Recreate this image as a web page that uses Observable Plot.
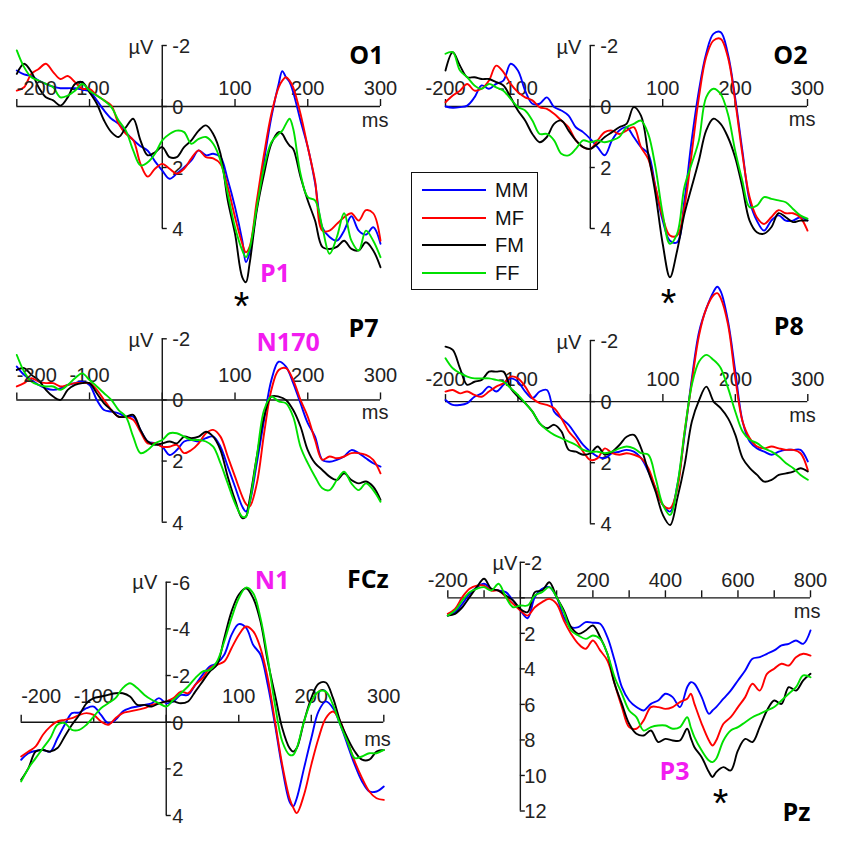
<!DOCTYPE html>
<html>
<head>
<meta charset="utf-8">
<script src="https://cdn.jsdelivr.net/npm/d3@7"></script>
<script src="https://cdn.jsdelivr.net/npm/@observablehq/plot@0.6"></script>
<style>
  body { margin: 0; background: #fff; }
  #chart { position: relative; width: 850px; height: 844px; background: #fff; overflow: hidden;
           font-family: "Liberation Sans", Arial, sans-serif; }
  #chart svg { position: absolute; left: 0; top: 0; background: transparent !important; }
  #legend { position: absolute; left: 411px; top: 172px; width: 125px; height: 116px;
            border: 1.5px solid #111; background: #fff; }
  .lg-row { position: absolute; left: 0; height: 24px; width: 125px; }
  .lg-line { position: absolute; left: 10px; top: 11px; width: 64px; height: 0; border-top: 2.4px solid; }
  .lg-text { position: absolute; left: 83px; top: 0; font-size: 20px; line-height: 24px; color: #111; }
</style>
</head>
<body>
<div id="chart"><div id="legend"></div></div>
<script>
// ---------- categories ----------
const conditions = ["MM", "MF", "FM", "FF"];
const conditionColors = ["#0000ff", "#ff0000", "#000000", "#00e000"];

// ---------- tick labels ----------
const shortTicks = [-200, -100, 0, 100, 200, 300];
const shortLabels = [-200, -100, 100, 200, 300];
const uvTicks4 = [-2, 0, 2, 4];
const fczTicks = [-6, -4, -2, 0, 2, 4];
const pzXTicks = [-200, -100, 0, 100, 200, 300, 400, 500, 600, 700, 800];
const pzXLabels = [-200, 200, 400, 600, 800];
const pzYTicks = [-2, 0, 2, 4, 6, 8, 10, 12];
const pzYLabels = [-2, 2, 4, 6, 8, 10, 12];

// ---------- O1 ----------
const o1Time = [-200,-190,-180,-170,-160,-150,-140,-130,-120,-110,-100,-90,-80,-70,-60,-50,-40,-30,-20,-10,0,10,20,30,40,50,60,70,80,90,100,110,115,120,130,140,150,160,165,170,175,180,190,200,210,220,230,240,250,260,270,280,290,300];
const o1MM = [-1.18,-1.05,-1.0,-0.85,-0.74,-0.65,-0.6,-0.6,-0.6,-0.55,-0.5,-0.2,0.13,0.4,0.57,0.85,1.1,1.3,1.45,1.8,2.1,2.37,2.2,2.0,1.77,1.44,1.6,1.55,1.66,2.4,3.3,4.4,5.1,4.8,3.3,1.77,0.35,-0.74,-1.16,-0.96,-0.8,-0.47,0.46,1.33,2.5,3.96,4.28,4.4,4.07,3.6,4.07,4.2,3.96,4.5];
const o1MF = [-0.52,-0.63,-1.07,-1.23,-1.4,-1.13,-0.9,-1.0,-0.8,-0.58,-0.58,-0.36,-0.2,-0.03,0.57,0.9,1.1,1.88,2.3,2.04,1.88,2.04,2.2,2.04,1.7,1.44,1.66,1.7,1.88,2.64,3.63,4.5,4.78,4.6,3.08,1.55,0.24,-0.63,-0.85,-0.96,-0.85,-0.63,0.24,1.33,2.43,4.07,4.07,3.85,3.63,3.5,3.74,3.4,3.5,4.4];
const o1FM = [-1.07,-1.4,-1.13,-0.63,-0.3,-0.2,-0.03,-0.3,-0.74,-0.8,-0.47,-0.09,0.46,0.84,1.0,0.68,0.4,1.11,1.6,1.5,1.33,1.66,1.66,1.33,1.11,0.79,0.62,0.9,1.55,3.08,4.17,5.6,5.76,5.16,3.4,2.2,1.22,0.84,0.9,1.11,1.28,1.39,2.3,3.08,3.74,4.6,4.67,4.6,4.4,4.67,4.72,4.45,4.72,5.27];
const o1FF = [-1.84,-1.29,-0.96,-0.85,-0.74,-0.63,-0.3,-0.36,-0.52,-0.74,-0.52,-0.36,-0.2,0.02,0.46,0.79,1.44,1.93,1.83,1.55,1.11,0.9,0.79,0.84,1.22,1.06,1.0,1.22,1.77,2.86,3.96,4.72,4.94,4.67,3.3,1.99,1.17,0.9,0.79,0.57,0.4,0.73,2.2,2.97,3.08,3.96,4.83,4.28,3.5,4.4,4.72,4.07,4.4,4.94];

// ---------- O2 ----------
const o2Time = [-200,-190,-180,-170,-160,-150,-140,-130,-120,-110,-100,-90,-80,-70,-60,-50,-40,-30,-20,-10,0,10,20,30,40,50,60,70,80,90,100,110,120,130,140,150,160,170,180,190,200,210,220,230,240,250,260,270,280,290,300];
const o2MM = [0,0.04,0.02,-0.03,-0.3,-0.69,-0.58,-0.74,-0.85,-1.4,-1.18,-0.52,-0.09,-0.09,-0.3,0.02,0.13,0.3,0.68,0.84,1.06,1.33,1.6,1.11,0.79,0.68,1.0,1.33,1.55,2.64,3.74,4.4,4.45,3.08,1.11,-0.52,-1.73,-2.38,-2.44,-1.73,-0.3,1.44,3.08,3.74,4.07,3.74,3.57,3.74,3.74,3.63,3.74];
const o2MF = [-0.14,-0.36,-0.52,-0.74,-0.52,-0.58,-0.85,-1.34,-1.13,-0.74,-0.47,-0.3,-0.2,0.02,0.08,0.24,0.46,0.68,1.11,1.33,1.39,1.11,0.84,0.79,0.9,0.79,0.68,1.33,1.72,2.64,3.63,4.23,4.23,3.3,1.55,-0.3,-1.62,-2.16,-2.22,-1.62,-0.2,1.55,2.97,3.63,3.85,3.63,3.4,3.5,3.5,3.63,4.07];
const o2FM = [-1.18,-1.78,-1.34,-0.96,-0.96,-0.9,-0.9,-0.8,-0.69,-0.3,0.13,0.46,0.9,1.17,1.0,0.57,0.46,0.79,1.11,1.33,1.39,1.22,1.0,0.84,0.68,0.57,0.02,0.3,1.55,2.86,4.5,5.6,4.72,3.52,2.64,1.77,0.79,0.4,0.57,1.0,1.66,2.64,3.74,4.12,4.17,3.96,3.5,3.63,3.79,3.74,3.74];
const o2FF = [-1.73,-1.78,-1.18,-0.96,-0.69,-0.58,-0.74,-0.63,-0.52,-0.25,0.02,0.13,0.46,0.9,0.9,1.11,1.55,1.6,1.39,1.11,1.17,1.11,1.17,1.11,1.0,0.68,0.57,0.46,0.9,1.99,3.52,4.5,4.17,2.64,1.88,1.11,-0.3,-0.58,-0.41,0.24,1.44,2.43,3.3,3.25,2.97,3.03,3.08,3.14,3.36,3.57,3.68];

// ---------- P7 ----------
const p7Time = [-200,-190,-180,-170,-160,-150,-140,-130,-120,-110,-100,-90,-80,-70,-60,-50,-40,-30,-20,-10,0,10,20,30,40,50,60,70,80,90,100,110,115,120,130,140,150,160,170,180,190,200,210,220,230,240,250,260,270,280,290,300];
const p7MM = [-1.09,-0.82,-0.65,-0.49,-0.38,-0.33,-0.38,-0.49,-0.55,-0.6,-0.49,0,0.33,0.38,0.44,0.55,0.55,0.98,1.36,1.42,1.53,1.8,1.64,1.36,1.31,1.36,1.25,1.2,1.53,2.18,2.84,3.49,3.65,3.38,2.07,0.65,-0.65,-1.25,-1.09,-0.55,0.11,0.76,1.2,1.96,2.02,1.96,1.85,1.64,1.74,1.91,2.07,2.18];
const p7MF = [-0.44,-0.55,-0.71,-0.6,-0.55,-0.55,-0.44,-0.49,-0.55,-0.55,-0.55,-0.33,0,0.33,0.55,0.55,0.65,1.04,1.42,1.42,1.53,1.53,1.47,1.74,1.64,1.42,1.09,0.98,1.2,1.85,2.51,3.16,3.4,3.49,2.73,1.09,-0.33,-0.98,-1.04,-0.65,0,0.55,1.31,1.96,1.85,1.91,1.85,1.74,1.74,1.8,1.96,2.4];
const p7FM = [-0.98,-1.04,-0.82,-0.65,-0.33,-0.11,0,-0.33,-0.49,-0.55,-0.55,-0.22,0.11,0.33,0.55,0.55,0.49,0.98,1.36,1.47,1.42,1.36,1.42,1.2,1.25,1.2,1.04,1.2,1.64,2.51,3.27,3.87,3.82,3.27,1.85,0.55,-0.11,-0.11,0,0.33,0.87,1.64,2.07,2.29,2.51,2.62,2.4,2.62,2.73,2.67,2.84,3.27];
const p7FF = [-1.47,-0.93,-0.6,-0.49,-0.44,-0.44,-0.33,-0.49,-0.71,-0.87,-0.65,-0.44,-0.22,0,0.33,0.55,1.2,1.74,1.64,1.42,1.31,1.09,1.09,1.2,1.31,1.31,1.36,1.53,2.07,2.73,3.38,3.82,3.82,3.38,1.85,0.33,-0.11,0.05,0.11,0.55,1.53,2.07,2.51,2.89,2.95,2.62,2.35,2.73,2.95,2.73,2.95,3.33];

// ---------- P8 ----------
const p8Time = [-200,-190,-180,-170,-160,-150,-140,-130,-120,-110,-100,-90,-80,-70,-60,-50,-40,-30,-20,-10,0,10,20,30,40,50,60,70,80,90,100,110,120,130,140,150,160,170,175,180,190,200,210,220,230,240,250,260,270,280,290,300];
const p8MM = [-0.05,0.11,0.11,0.05,-0.16,-0.27,-0.49,-0.33,-0.55,-0.76,-0.65,-0.33,-0.11,-0.33,-0.38,0.33,0.55,0.76,1.09,1.42,1.64,1.8,1.85,1.69,1.64,1.58,1.64,1.85,2.29,2.84,3.38,3.6,2.73,1.09,-0.76,-2.29,-3.05,-3.6,-3.76,-3.6,-2.62,-0.98,0.65,1.31,1.53,1.64,1.74,1.64,1.58,1.58,1.58,1.96];
const p8MF = [-0.33,-0.38,-0.27,-0.33,-0.22,-0.16,-0.33,-0.49,-0.6,-0.82,-0.76,-0.49,-0.11,0.05,0.11,0.22,0.55,0.98,1.25,1.64,1.91,1.85,1.53,1.69,1.74,1.69,1.74,1.85,2.18,2.84,3.38,3.49,2.84,0.98,-0.65,-2.18,-3.05,-3.49,-3.55,-3.38,-2.51,-0.76,0.65,1.2,1.47,1.53,1.47,1.53,1.58,1.58,1.69,2.24];
const p8FM = [-1.8,-1.69,-1.09,-0.55,-0.65,-0.71,-0.98,-0.98,-0.98,-0.44,-0.16,0.05,0.33,0.71,0.87,0.76,0.98,1.58,1.64,1.74,1.69,1.47,1.74,1.64,1.42,1.15,1.09,1.53,2.29,2.95,3.71,4.04,3.16,2.07,0.65,-0.05,-0.49,0.0,0.11,0.22,0.55,1.09,1.85,2.18,2.4,2.62,2.56,2.4,2.35,2.29,2.18,2.29];
const p8FF = [-1.42,-1.09,-0.93,-0.82,-0.76,-0.76,-0.76,-0.71,-0.65,-0.44,-0.22,0.05,0.33,0.71,0.93,1.09,1.2,1.31,1.42,1.58,1.64,1.64,1.69,1.64,1.53,1.47,1.53,1.69,1.74,2.51,3.38,3.71,2.73,0.98,-0.55,-1.31,-1.53,-1.36,-1.25,-1.09,-0.44,0.33,0.98,1.25,1.36,1.53,1.64,1.8,2.02,2.18,2.4,2.56];

// ---------- FCz ----------
const fczTime = [-200,-190,-180,-170,-160,-150,-140,-130,-120,-110,-100,-90,-80,-70,-60,-50,-40,-30,-20,-10,0,10,20,30,40,50,60,70,80,90,100,110,120,130,140,150,160,170,175,180,190,200,210,220,230,240,250,260,270,280,290,300];
const fczMM = [1.61,1.33,1.23,1.19,1.26,0.69,0.11,-0.39,-0.41,-0.6,-0.67,-0.31,0.04,-0.1,-0.46,-0.6,-0.67,-0.74,-0.81,-1.03,-0.81,-0.89,-1.17,-1.17,-1.6,-2.03,-2.39,-2.53,-2.89,-3.74,-4.2,-4.05,-3.31,-2.89,-1.6,0.11,1.97,3.4,3.61,3.26,1.97,0.69,-0.46,-0.89,-0.6,0.11,0.97,1.83,2.54,2.97,2.97,2.76];
const fczMF = [1.47,1.26,1.04,0.54,0.19,-0.03,-0.1,-0.17,-0.31,-0.39,-0.31,-0.03,0.11,-0.17,-0.39,-0.46,-0.53,-0.6,-0.74,-0.81,-0.89,-1.03,-1.31,-1.24,-1.6,-1.89,-2.31,-2.46,-2.6,-3.17,-3.74,-4.1,-3.89,-3.17,-1.89,-0.03,1.83,3.26,3.65,3.9,3.11,1.83,0.69,-0.17,-0.46,-0.03,0.83,1.69,2.4,2.97,3.26,3.33];
const fczFM = [2.47,1.97,1.26,1.19,1.26,1.11,0.61,0.11,-0.31,-0.81,-1.03,-1.1,-1.17,-1.24,-1.24,-1.1,-0.74,-0.74,-0.67,-0.81,-0.89,-0.89,-0.81,-0.89,-1.31,-1.74,-2.17,-2.46,-3.6,-4.74,-5.46,-5.74,-5.31,-4.31,-2.6,-1.17,0.26,1.11,1.26,1.11,-0.03,-1.03,-1.65,-1.7,-1.03,-0.03,0.69,1.26,1.61,1.61,1.26,1.19];
const fczFF = [2.54,1.97,1.54,1.11,0.69,0.11,0.04,0.33,0.33,0.11,-0.24,-0.6,-0.81,-1.03,-1.46,-1.67,-1.46,-1.17,-0.96,-0.81,-0.67,-0.96,-1.24,-1.53,-1.89,-2.17,-2.24,-2.6,-3.46,-4.46,-5.31,-5.77,-5.53,-4.46,-2.74,-0.74,0.83,1.4,1.4,1.11,-0.03,-0.89,-1.31,-1.31,-0.74,0.11,0.83,1.54,1.47,1.33,1.33,1.19];

// ---------- Pz ----------
const pzTime = [-200,-180,-160,-140,-120,-100,-80,-60,-40,-20,0,20,40,60,80,100,120,140,160,180,200,220,240,260,280,300,320,340,360,380,400,420,440,460,470,480,500,520,530,540,560,580,600,620,640,660,680,700,720,740,760,780,800];
const pzMM = [1.0,0.81,0.34,-0.23,-0.6,-0.79,-0.51,-0.41,-0.32,0.15,0.71,1.15,-0.04,-0.51,-0.6,-0.04,1.09,1.65,1.65,1.37,1.4,1.46,2.21,3.53,5.03,5.78,6.15,6.34,5.97,5.78,5.4,5.59,6.15,5.03,4.75,4.84,5.59,6.53,6.34,6.15,5.68,5.22,4.65,4.09,3.43,3.34,3.15,2.96,2.68,2.59,2.4,2.59,1.84];
const pzMF = [0.9,0.62,-0.04,-0.51,-0.69,-0.69,-0.41,-0.41,-0.04,0.34,0.71,1.0,0.53,0.24,0.06,0.34,1.28,2.03,2.59,2.87,2.4,2.96,3.53,4.84,6.15,7.28,7.37,6.9,6.15,6.15,6.25,6.15,5.87,5.68,5.4,5.97,7.09,8.03,8.31,8.03,7.09,6.72,6.15,5.59,4.84,5.22,4.28,3.99,3.71,3.81,3.34,3.15,3.25];
const pzFM = [1.0,0.9,0.53,-0.04,-0.6,-1.07,-0.51,-0.41,-0.13,0.15,0.62,0.81,-0.32,-0.41,-0.88,-0.04,0.71,1.65,2.03,1.84,1.56,2.21,3.15,4.84,5.97,7.09,7.65,7.75,7.47,8.12,7.94,8.03,8.03,7.37,7.9,8.41,8.97,9.81,10.09,9.81,9.53,9.72,8.59,7.94,8.12,7.28,6.34,5.78,5.97,5.03,5.22,4.65,4.28];
const pzFF = [1.0,0.71,0.15,-0.32,-0.51,-0.6,-0.41,-0.79,-0.04,0.53,0.43,0.43,-0.13,-0.32,-0.6,-0.04,0.81,1.84,2.12,2.31,2.12,2.31,3.15,4.47,5.4,6.34,6.72,7.47,7.28,7.19,7.19,7.37,7.28,6.72,7.3,7.84,8.59,9.16,9.25,9.06,8.03,7.47,7.28,7.0,6.72,6.53,6.34,6.15,5.78,5.4,5.03,4.37,4.47];

// ---------- panel layout ----------
const axisColor = "#151515";
const boldFont = "'Open Sans', 'Noto Sans', sans-serif";
const tickFont = "'Liberation Sans', Arial, sans-serif";
const magenta = "#f21cf0";

const panels = [
  { name: "O1", time: o1Time, values: [o1MM, o1MF, o1FM, o1FF],
    xDomain: [-200, 300], xRange: [16.3, 380], yDomain: [-2, 4], yRange: [45, 228],
    xTicks: shortTicks, xLabels: shortLabels, yTicks: uvTicks4, yLabels: uvTicks4,
    xLabelDy: 18, yLabelDx: 10, firstStart: true,
    nameAt: [300, -2], nameDx: 3, nameDy: 10, uvDx: -9, uvDy: 2, msDx: 8, msDy: 14,
    peak: { text: "P1", x: 155, y: 5.5 }, star: { x: 109, y: 6.23 } },
  { name: "O2", time: o2Time, values: [o2MM, o2MF, o2FM, o2FF],
    xDomain: [-200, 300], xRange: [445, 807], yDomain: [-2, 4], yRange: [45, 228],
    xTicks: shortTicks, xLabels: shortLabels, yTicks: uvTicks4, yLabels: uvTicks4,
    xLabelDy: 18, yLabelDx: 10, firstStart: false,
    nameAt: [300, -2], nameDx: 0, nameDy: 10, uvDx: -9, uvDy: 2, msDx: 8, msDy: 13,
    star: { x: 108, y: 6.13 } },
  { name: "P7", time: p7Time, values: [p7MM, p7MF, p7FM, p7FF],
    xDomain: [-200, 300], xRange: [16.3, 380], yDomain: [-2, 4], yRange: [338.3, 521.7],
    xTicks: shortTicks, xLabels: shortLabels, yTicks: uvTicks4, yLabels: uvTicks4,
    xLabelDy: 24, yLabelDx: 10, firstStart: true,
    nameAt: [300, -2], nameDx: -2, nameDy: -10, uvDx: -9, uvDy: 2, msDx: 8, msDy: 13,
    peak: { text: "N170", x: 173, y: -1.85 } },
  { name: "P8", time: p8Time, values: [p8MM, p8MF, p8FM, p8FF],
    xDomain: [-200, 300], xRange: [445, 807.3], yDomain: [-2, 4], yRange: [340, 523.3],
    xTicks: shortTicks, xLabels: shortLabels, yTicks: uvTicks4, yLabels: uvTicks4,
    xLabelDy: 22, yLabelDx: 10, firstStart: false,
    nameAt: [300, -2], nameDx: -4, nameDy: -14, uvDx: -9, uvDy: 2, msDx: 8, msDy: 14 },
  { name: "FCz", time: fczTime, values: [fczMM, fczMF, fczFM, fczFF],
    xDomain: [-200, 300], xRange: [20.7, 383.3], yDomain: [-6, 4], yRange: [581.7, 815],
    xTicks: shortTicks, xLabels: shortLabels, yTicks: fczTicks, yLabels: fczTicks,
    xLabelDy: 26, yLabelDx: 6, firstStart: true,
    nameAt: [300, -6], nameDx: 5, nameDy: -2, uvDx: -9, uvDy: 0, msDx: 7, msDy: 17,
    peak: { text: "N1", x: 146, y: -6.07 } },
  { name: "Pz", time: pzTime, values: [pzMM, pzMF, pzFM, pzFF],
    xDomain: [-200, 800], xRange: [447.3, 810], yDomain: [-2, 12], yRange: [561.8, 810.5],
    xTicks: pzXTicks, xLabels: pzXLabels, yTicks: pzYTicks, yLabels: pzYLabels,
    xLabelDy: 17, yLabelDx: 4, firstStart: false,
    nameAt: [800, 12], nameDx: 0, nameDy: 2, uvDx: -3, uvDy: 1, msDx: 10, msDy: 14,
    peak: { text: "P3", x: 425, y: 9.83 }, star: { x: 552, y: 11.02 } }
];

const chart = document.getElementById("chart");

function drawPanel(p) {
  const rows = [];
  conditions.forEach((c, j) => p.values[j].forEach((v, i) => rows.push({ t: p.time[i], v, cond: c })));
  const kx = (p.xDomain[1] - p.xDomain[0]) / (p.xRange[1] - p.xRange[0]);
  const ky = (p.yDomain[1] - p.yDomain[0]) / (p.yRange[1] - p.yRange[0]);
  const fmt = d => String(d);
  const xl = p.firstStart ? p.xLabels.slice(1) : p.xLabels;
  const axisOpts = { stroke: axisColor, strokeWidth: 1.4 };
  const marks = [
    Plot.ruleY([0], { x1: p.xDomain[0], x2: p.xDomain[1], ...axisOpts }),
    Plot.ruleX([0], { y1: p.yDomain[0], y2: p.yDomain[1], ...axisOpts }),
    Plot.ruleX(p.xTicks, { x: d => d, y1: 0, y2: -7 * ky, ...axisOpts }),
    Plot.ruleY(p.yTicks, { y: d => d, x1: 0, x2: 5 * kx, ...axisOpts }),
    Plot.text(xl, { x: d => d, y: 0, dy: -p.xLabelDy, text: fmt, fontSize: 20, fill: "#222", fontFamily: tickFont }),
    Plot.text(p.yLabels, { x: 0, y: d => d, dx: p.yLabelDx, dy: 1, text: fmt, textAnchor: "start", fontSize: 20, fill: "#222", fontFamily: tickFont }),
    Plot.text(["µV"], { x: 0, y: p.yDomain[0], dx: p.uvDx, dy: p.uvDy, text: d => d, textAnchor: "end", fontSize: 20, fill: "#222", fontFamily: tickFont }),
    Plot.text(["ms"], { x: p.xDomain[1], y: 0, dx: p.msDx, dy: p.msDy, text: d => d, textAnchor: "end", fontSize: 20, fill: "#222", fontFamily: tickFont }),
    Plot.line(rows, { x: "t", y: "v", z: "cond", stroke: "cond", strokeWidth: 1.9, curve: "catmull-rom" }),
    Plot.text([p.name], { x: p.nameAt[0], y: p.nameAt[1], dx: p.nameDx, dy: p.nameDy, text: d => d, textAnchor: "end", fontSize: 25, fontWeight: 700, fill: "#000", fontFamily: boldFont })
  ];
  if (p.firstStart) {
    marks.push(Plot.text([p.xLabels[0]], { x: d => d, y: 0, dy: -p.xLabelDy, text: fmt, textAnchor: "start", fontSize: 20, fill: "#222", fontFamily: tickFont }));
  }
  if (p.peak) {
    marks.push(Plot.text([p.peak], { x: "x", y: "y", text: "text", fontSize: 25, fontWeight: 700, fill: magenta, fontFamily: boldFont }));
  }
  if (p.star) {
    marks.push(Plot.text([p.star], { x: "x", y: "y", dy: 11, text: () => "*", fontSize: 40, fill: "#000", fontFamily: tickFont }));
  }
  const svg = Plot.plot({
    width: 850, height: 844, margin: 0,
    x: { domain: p.xDomain, range: p.xRange, axis: null },
    y: { domain: p.yDomain, range: p.yRange, axis: null },
    color: { domain: conditions, range: conditionColors },
    style: { background: "transparent", fontFamily: tickFont, overflow: "visible" },
    marks
  });
  chart.appendChild(svg);
}

panels.forEach(drawPanel);

// legend
const legend = document.getElementById("legend");
chart.appendChild(legend);
conditions.forEach((c, i) => {
  const row = document.createElement("div");
  row.className = "lg-row";
  row.style.top = (5 + i * 27.7) + "px";
  row.innerHTML = `<div class="lg-line" style="border-color:${conditionColors[i]}"></div><div class="lg-text">${c}</div>`;
  legend.appendChild(row);
});
</script>
</body>
</html>
